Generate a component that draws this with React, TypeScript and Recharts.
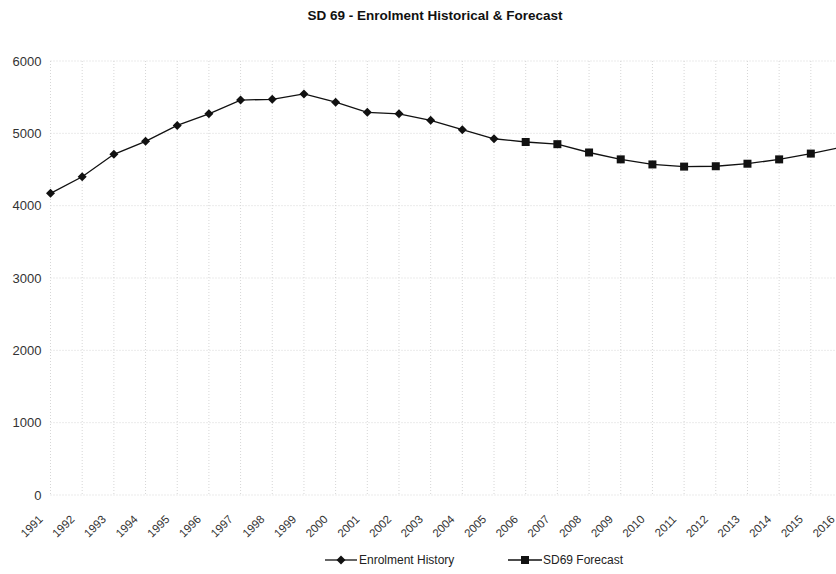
import React from 'react';
import { LineChart, Line, XAxis, YAxis, CartesianGrid } from 'recharts';

const years = [
  '1991', '1992', '1993', '1994', '1995', '1996', '1997', '1998', '1999', '2000',
  '2001', '2002', '2003', '2004', '2005', '2006', '2007', '2008', '2009', '2010',
  '2011', '2012', '2013', '2014', '2015', '2016',
];

// 1991 - 2005
const enrolmentHistory = [
  4170, 4400, 4710, 4890, 5110, 5270, 5460, 5470, 5545, 5430,
  5290, 5270, 5180, 5050, 4925,
];

// 2005 - 2016 (2005 is the join point with the history)
const sd69Forecast = [4925, 4880, 4850, 4735, 4640, 4570, 4540, 4545, 4580, 4640, 4720, 4810];
const forecastStart = 14;

const yTicks = [0, 1000, 2000, 3000, 4000, 5000, 6000];

const data = years.map((year, i) => ({
  year,
  history: i < enrolmentHistory.length ? enrolmentHistory[i] : null,
  forecast: i >= forecastStart ? sd69Forecast[i - forecastStart] : null,
}));

const FONT = '"Liberation Sans", Arial, sans-serif';
const INK = '#111';

const Diamond = (props: any) => {
  const { cx, cy, index } = props;
  if (cx == null || cy == null) return <g key={index} />;
  const r = 4.5;
  return (
    <path
      key={index}
      d={`M${cx},${cy - r}L${cx + r},${cy}L${cx},${cy + r}L${cx - r},${cy}Z`}
      fill={INK}
    />
  );
};

const Square = (props: any) => {
  const { cx, cy, index } = props;
  // skip the join point, it already carries a diamond
  if (cx == null || cy == null || index < enrolmentHistory.length) return <g key={index} />;
  const s = 8;
  return <rect key={index} x={cx - s / 2} y={cy - s / 2} width={s} height={s} fill={INK} />;
};

const YearTick = (props: any) => {
  const { x, y, payload } = props;
  return (
    <g transform={`translate(${x - 7},${y + 17})`}>
      <text textAnchor="end" transform="rotate(-45)" fontSize={11.5} fill="#333" fontFamily={FONT}>
        {payload.value}
      </text>
    </g>
  );
};

export default function App() {
  return (
    <div style={{ position: 'absolute', left: 0, top: 0, width: 836, height: 574, overflow: 'hidden', background: '#fff' }}>
      <div
        style={{
          position: 'absolute',
          top: 9,
          left: 0,
          width: 870,
          textAlign: 'center',
          fontFamily: FONT,
          fontWeight: 'bold',
          fontSize: 13.5,
          lineHeight: '14px',
          color: '#111',
        }}
      >
        SD 69 - Enrolment Historical &amp; Forecast
      </div>

      <LineChart width={850} height={574} data={data} margin={{ top: 61, right: 7.5, bottom: 0, left: 0 }}>
        <CartesianGrid stroke="#d6d6d6" strokeDasharray="1 2" />
        <XAxis
          dataKey="year"
          axisLine={false}
          tickLine={false}
          height={79}
          interval={0}
          tick={<YearTick />}
        />
        <YAxis
          domain={[0, 6000]}
          ticks={yTicks}
          width={50.5}
          axisLine={false}
          tickLine={false}
          tickSize={0}
          tickMargin={9}
          tick={{ fontSize: 13, fill: '#333', fontFamily: FONT }}
        />
        <Line
          dataKey="history"
          stroke={INK}
          strokeWidth={1.3}
          dot={<Diamond />}
          activeDot={false}
          isAnimationActive={false}
          connectNulls={false}
        />
        <Line
          dataKey="forecast"
          stroke={INK}
          strokeWidth={1.3}
          dot={<Square />}
          activeDot={false}
          isAnimationActive={false}
          connectNulls={false}
        />
      </LineChart>

      <div style={{ position: 'absolute', top: 552, left: 325, display: 'flex', alignItems: 'center', fontFamily: FONT, fontSize: 12, color: '#222' }}>
        <svg width={33} height={16}>
          <line x1={0} y1={8} x2={32} y2={8} stroke={INK} strokeWidth={1.3} />
          <path d="M16,3.5L20.5,8L16,12.5L11.5,8Z" fill={INK} />
        </svg>
        <span style={{ marginLeft: 1 }}>Enrolment History</span>
      </div>
      <div style={{ position: 'absolute', top: 552, left: 508, display: 'flex', alignItems: 'center', fontFamily: FONT, fontSize: 12, color: '#222' }}>
        <svg width={34} height={16}>
          <line x1={0} y1={8} x2={34} y2={8} stroke={INK} strokeWidth={1.3} />
          <rect x={13} y={4} width={8} height={8} fill={INK} />
        </svg>
        <span style={{ marginLeft: 1 }}>SD69 Forecast</span>
      </div>
    </div>
  );
}
